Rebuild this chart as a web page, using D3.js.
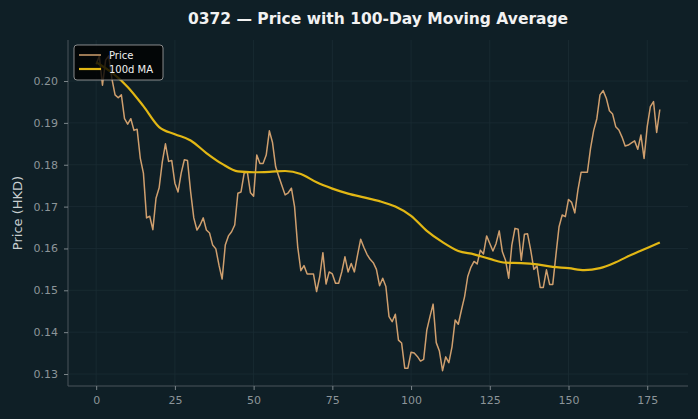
<!DOCTYPE html>
<html><head><meta charset="utf-8">
<script src="https://cdn.jsdelivr.net/npm/d3@7"></script>
<style>
html,body{margin:0;padding:0;background:#0f1f26;}
svg{display:block;font-family:"DejaVu Sans",sans-serif;}
</style></head>
<body><svg id="c" width="698" height="419"></svg>
<script>
const titleText = "0372 — Price with 100-Day Moving Average";
const yLabel = "Price (HKD)";
const seriesNames = ["Price", "100d MA"];
const price = [
0.2040,0.2060,0.1990,0.2050,0.2060,0.2005,0.1967,0.1960,0.1967,0.1910,
0.1897,0.1910,0.1882,0.1885,0.1816,0.1780,0.1673,0.1677,0.1645,0.1720,
0.1745,0.1807,0.1850,0.1808,0.1810,0.1756,0.1735,0.1780,0.1812,0.1810,
0.1735,0.1673,0.1644,0.1656,0.1673,0.1644,0.1637,0.1608,0.1599,0.1560,
0.1527,0.1608,0.1630,0.1640,0.1656,0.1732,0.1735,0.1780,0.1783,0.1733,
0.1725,0.1823,0.1803,0.1803,0.1823,0.1881,0.1853,0.1795,0.1772,0.1750,
0.1728,0.1733,0.1744,0.1700,0.1604,0.1547,0.1559,0.1539,0.1539,0.1539,
0.1497,0.1533,0.1590,0.1515,0.1544,0.1539,0.1517,0.1517,0.1544,0.1580,
0.1544,0.1564,0.1544,0.1584,0.1622,0.1603,0.1586,0.1574,0.1566,0.1550,
0.1511,0.1529,0.1509,0.1437,0.1425,0.1443,0.1381,0.1374,0.1314,0.1314,
0.1352,0.1350,0.1342,0.1331,0.1335,0.1405,0.1437,0.1467,0.1375,0.1355,
0.1308,0.1341,0.1327,0.1365,0.1429,0.1419,0.1453,0.1485,0.1533,0.1555,
0.1569,0.1563,0.1596,0.1587,0.1630,0.1612,0.1594,0.1612,0.1642,0.1592,
0.1572,0.1529,0.1608,0.1648,0.1646,0.1572,0.1634,0.1635,0.1596,0.1550,
0.1558,0.1507,0.1507,0.1549,0.1514,0.1514,0.1584,0.1652,0.1680,0.1676,
0.1717,0.1710,0.1685,0.1740,0.1782,0.1782,0.1782,0.1839,0.1882,0.1910,
0.1967,0.1977,0.1959,0.1929,0.1921,0.1891,0.1883,0.1866,0.1845,0.1847,
0.1852,0.1857,0.1837,0.1871,0.1815,0.1891,0.1939,0.1951,0.1877,0.1932
];
const maDays = [0,5,10,15,20,25,30,35,40,45,50,55,60,65,70,75,80,85,90,95,100,105,110,115,120,125,130,135,140,145,150,155,160,165,170,175,179];
const maValues = [0.2045,0.2020,0.1986,0.1940,0.1890,0.1873,0.1858,0.1828,0.1802,0.1784,
0.1782,0.1783,0.1785,0.1778,0.1758,0.1743,0.1731,0.1722,0.1713,0.1700,
0.1678,0.1642,0.1615,0.1594,0.1586,0.1575,0.1566,0.1565,0.1562,0.1556,
0.1553,0.1548,0.1553,0.1567,0.1585,0.1601,0.1614];
const xTicks = [0,25,50,75,100,125,150,175];
const yTicks = [0.13,0.14,0.15,0.16,0.17,0.18,0.19,0.20];

const W=698,H=419, m={l:68,r:10,t:40,b:33};
const svg=d3.select("#c");
const n=price.length;
const pad=(n-1)*0.05;
const x=d3.scaleLinear().domain([-pad,(n-1)+pad]).range([m.l,W-m.r]);
const yMin=0.1308, yMax=0.2062;
const y=d3.scaleLinear().domain([0.12714,0.20980]).range([H-m.b,m.t]);

svg.append("rect").attr("width",W).attr("height",H).attr("fill","#0f1f26");

// grid
const g=svg.append("g");
g.selectAll(".gx").data(xTicks).join("line").attr("x1",d=>x(d)).attr("x2",d=>x(d))
 .attr("y1",m.t).attr("y2",H-m.b).attr("stroke","#1b2c33").attr("stroke-width",0.8);
g.selectAll(".gy").data(yTicks).join("line").attr("y1",d=>y(d)).attr("y2",d=>y(d))
 .attr("x1",m.l).attr("x2",W-m.r).attr("stroke","#1b2c33").attr("stroke-width",0.8);

// axes
const xa=svg.append("g").attr("transform",`translate(0,${H-m.b})`)
 .call(d3.axisBottom(x).tickValues(xTicks).tickSize(4).tickPadding(6).tickFormat(d3.format("d")));
const ya=svg.append("g").attr("transform",`translate(${m.l},0)`)
 .call(d3.axisLeft(y).tickValues(yTicks).tickSize(4).tickPadding(6).tickFormat(d3.format(".2f")));
[xa,ya].forEach(a=>{
 a.select(".domain").attr("stroke","#4a555a").attr("stroke-width",1);
 a.selectAll(".tick line").attr("stroke","#7d878b");
 a.selectAll(".tick text").attr("fill","#8c9599").attr("font-size","11px").attr("font-family","DejaVu Sans");
});
xa.select(".domain").attr("d",`M${m.l},0H${W-m.r}`);
ya.select(".domain").attr("d",`M0,${m.t}V${H-m.b}`);

// lines
const priceLine=d3.line().x((d,i)=>x(i)).y(d=>y(d));
svg.append("path").datum(price).attr("d",priceLine).attr("fill","none")
 .attr("stroke","#cf9f6e").attr("stroke-width",1.5).attr("stroke-linejoin","round");
const maLine=d3.line().x(d=>x(d[0])).y(d=>y(d[1])).curve(d3.curveMonotoneX);
svg.append("path").datum(maDays.map((d,i)=>[d,maValues[i]])).attr("d",maLine).attr("fill","none")
 .attr("stroke","#e2b714").attr("stroke-width",2.2);

// title
svg.append("text").attr("x",(m.l+W-m.r)/2).attr("y",24).attr("text-anchor","middle")
 .attr("fill","#f2f2f2").attr("font-size","15.5px").attr("font-weight","bold").text(titleText);
// y label
svg.append("text").attr("transform",`translate(22,${(m.t+H-m.b)/2}) rotate(-90)`).attr("text-anchor","middle")
 .attr("fill","#c9cfd1").attr("font-size","13px").text(yLabel);

// legend
const lg=svg.append("g").attr("transform","translate(74,45)");
lg.append("rect").attr("width",89).attr("height",35).attr("rx",3).attr("fill","#000").attr("fill-opacity",0.8)
 .attr("stroke","#a8a8a8").attr("stroke-width",0.8);
const cols=["#cf9f6e","#e2b714"], wds=[1.5,2.2];
seriesNames.forEach((s,i)=>{
 const yy=10+i*14;
 lg.append("line").attr("x1",5).attr("x2",27).attr("y1",yy).attr("y2",yy).attr("stroke",cols[i]).attr("stroke-width",wds[i]);
 lg.append("text").attr("x",35).attr("y",yy+3.5).attr("fill","#f0f0f0").attr("font-size","10px").text(s);
});
</script></body></html>
